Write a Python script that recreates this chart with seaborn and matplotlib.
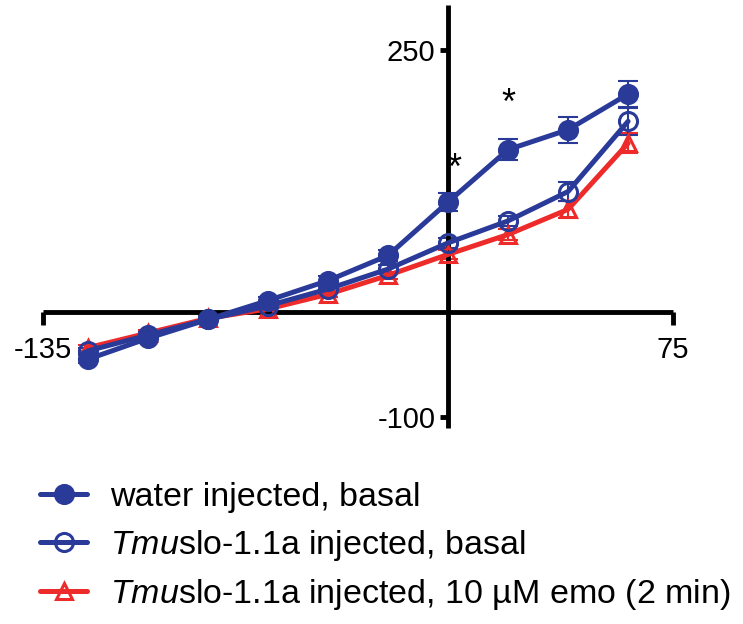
import matplotlib
matplotlib.use('Agg')
import matplotlib.pyplot as plt
import seaborn as sns
import pandas as pd

# --- data ---
voltage = [-120, -100, -80, -60, -40, -20, 0, 20, 40, 60]

water_basal = [-45, -25, -7, 11, 30, 54, 105, 155, 174, 208]
water_basal_err = [4, 3, 3, 3, 4, 5, 8.7, 10.3, 12.4, 12.4]

tmu_basal = [-37, -22, -7, 6, 22, 41, 66, 87, 115, 182]
tmu_basal_err = [3, 3, 3, 3, 3, 4, 5, 5, 9.5, 12.8]

tmu_emo = [-34, -20, -6, 3, 17, 35, 55, 74, 98, 161]
tmu_emo_err = [3, 3, 3, 3, 3, 3, 4, 5, 8, 9.5]

labels = ['water injected, basal',
          r'$\mathit{Tmu}$slo-1.1a injected, basal',
          r'$\mathit{Tmu}$slo-1.1a injected, 10 µM emo (2 min)']

star_x = [2, 20]
star_y = [136, 198]

x_ticks = [-135, 75]
y_ticks = [-100, 250]

sns.set_style("white")
plt.rcParams['font.family'] = ['Liberation Sans', 'DejaVu Sans']
plt.rcParams['mathtext.fontset'] = 'custom'
plt.rcParams['mathtext.rm'] = 'Liberation Sans'
plt.rcParams['mathtext.it'] = 'Liberation Sans:italic'
plt.rcParams['text.color'] = 'black'
plt.rcParams['xtick.color'] = 'black'
plt.rcParams['ytick.color'] = 'black'

blue = '#2a3a98'
red = '#ee2b2b'

fig = plt.figure(figsize=(7.43, 6.24), dpi=100)
ax = fig.add_axes([0.0579, 0.314, 0.848, 0.678])

series = [
    (tmu_emo, tmu_emo_err, red, '^', 'none', labels[2]),
    (tmu_basal, tmu_basal_err, blue, 'o', 'none', labels[1]),
    (water_basal, water_basal_err, blue, 'o', blue, labels[0]),
]

for vals, err, col, mk, mfc, lab in series:
    df = pd.DataFrame({'V': voltage, 'I': vals})
    ax.errorbar(df['V'], df['I'], yerr=err, fmt='none', ecolor=col,
                elinewidth=1.5, capsize=7, capthick=1.5, clip_on=False, zorder=2)
    sns.lineplot(data=df, x='V', y='I', ax=ax, color=col, lw=3.6,
                 marker=mk, markersize=13 if mk == 'o' else 11.5,
                 mfc=mfc, mec=col, mew=2.2, label=lab,
                 clip_on=False, zorder=3)

for sx, sy in zip(star_x, star_y):
    ax.text(sx, sy, '*', fontsize=26, ha='center', va='center', color='black')

ax.set_xlim(-135, 75)
ax.set_ylim(-110.7, 293)
ax.spines['left'].set_position(('data', 0))
ax.spines['bottom'].set_position(('data', 0))
ax.spines['top'].set_visible(False)
ax.spines['right'].set_visible(False)
for s in ['left', 'bottom']:
    ax.spines[s].set_linewidth(3.5)
    ax.spines[s].set_color('black')
    ax.spines[s].set_capstyle('butt')

ax.set_xticks(x_ticks)
ax.set_yticks(y_ticks)
ax.set_xticklabels([str(t) for t in x_ticks])
ax.set_yticklabels([str(t) for t in y_ticks])
ax.tick_params(axis='x', direction='out', length=9, width=3.5,
               labelsize=21, pad=8, bottom=True, colors='black')
ax.tick_params(axis='y', direction='out', length=6, width=3.5,
               labelsize=21, pad=3, left=True, colors='black')
ax.set_xlabel('')
ax.set_ylabel('')

handles, labs = ax.get_legend_handles_labels()
ax.get_legend().remove()
order = [2, 1, 0]
leg = fig.legend([handles[i] for i in order], [labs[i] for i in order],
                 loc='upper left', bbox_to_anchor=(0.031, 0.255),
                 frameon=False, fontsize=24.5, handlelength=1.38,
                 handletextpad=0.68, labelspacing=0.43, borderpad=0)
for t in leg.get_texts():
    t.set_color('black')

fig.savefig('out.png', dpi=100)
